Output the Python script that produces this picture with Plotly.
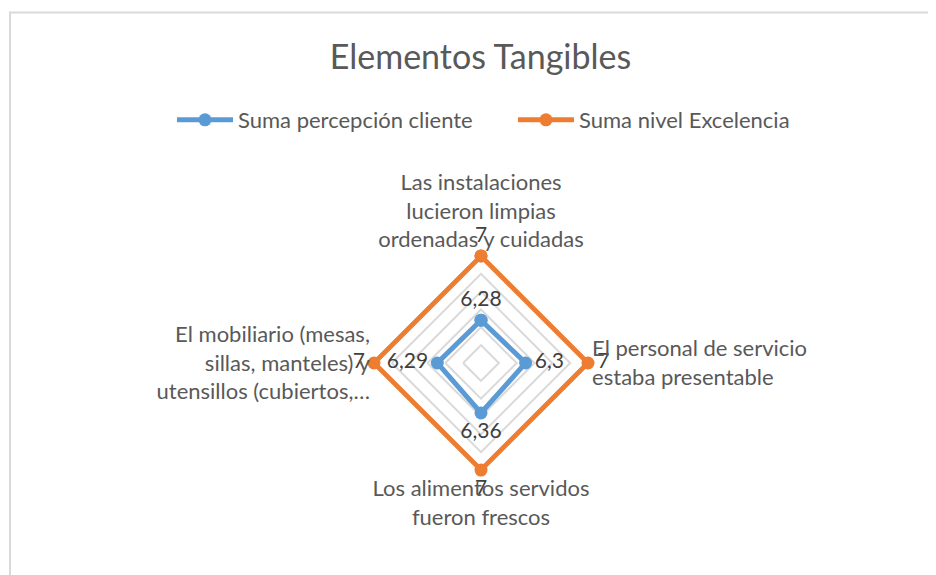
import plotly.graph_objects as go

categories = [
    "Las instalaciones<br>lucieron limpias<br>ordenadas y cuidadas",
    "El personal de servicio<br>estaba presentable",
    "Los alimentos servidos<br>fueron frescos",
    "El mobiliario (mesas,<br>sillas, manteles) y<br>utensillos (cubiertos,…",
]
percepcion = [6.28, 6.3, 6.36, 6.29]
excelencia = [7, 7, 7, 7]
series_names = ["Suma percepción cliente", "Suma nivel Excelencia"]

BLUE = "#5B9BD5"
ORANGE = "#ED7D31"
FONT = "Lato"

# the page body has an 8px margin, so positions are given in page pixels
W, H, OFF = 936, 575, 8


def px_x(p):
    return (p - OFF) / W


def px_y(p):
    return 1 - (p - OFF) / H


def fmt(v):
    return f"{v:g}".replace(".", ",")


def closed(values):
    return values + values[:1]


label_pos = ["top center", "middle right", "bottom center", "middle left", "top center"]

fig = go.Figure()

fig.add_trace(go.Scatterpolar(
    r=closed(percepcion),
    theta=closed(categories),
    name=series_names[0],
    mode="lines+markers+text",
    text=[fmt(v) for v in percepcion] + [""],
    textposition=label_pos,
    textfont=dict(family=FONT, size=21, color="#404040"),
    line=dict(color=BLUE, width=5),
    marker=dict(color=BLUE, size=13),
    cliponaxis=False,
))

fig.add_trace(go.Scatterpolar(
    r=closed(excelencia),
    theta=closed(categories),
    name=series_names[1],
    mode="lines+markers+text",
    text=[fmt(v) for v in excelencia] + [""],
    textposition=label_pos,
    textfont=dict(family=FONT, size=21, color="#404040"),
    line=dict(color=ORANGE, width=5),
    marker=dict(color=ORANGE, size=13),
    cliponaxis=False,
))

cx, cy, R = 481, 363, 110.6
fig.update_layout(
    width=W, height=H,
    margin=dict(l=0, r=0, t=0, b=0),
    paper_bgcolor="white",
    font=dict(family=FONT, color="#595959", size=22),
    title=dict(text="Elementos Tangibles", x=px_x(480.5), xanchor="center",
               y=px_y(57), yanchor="middle",
               font=dict(family=FONT, size=34, color="#595959")),
    legend=dict(orientation="h", x=px_x(172), xanchor="left", y=px_y(120), yanchor="middle",
                font=dict(family=FONT, size=22, color="#595959"),
                itemwidth=56, tracegroupgap=0,
                entrywidth=270, entrywidthmode="pixels"),
    polar=dict(
        domain=dict(x=[px_x(cx - R), px_x(cx + R)], y=[px_y(cy + R), px_y(cy - R)]),
        gridshape="linear",
        bgcolor="white",
        radialaxis=dict(range=[5.8, 7.04], tickvals=[6.0, 6.2, 6.4, 6.6, 6.8, 7.0],
                        showticklabels=False, ticks="",
                        showline=False, gridcolor="#d9d9d9", gridwidth=1.5),
        angularaxis=dict(direction="clockwise", rotation=90, showgrid=False,
                         showline=False, ticks="",
                         tickfont=dict(family=FONT, size=22, color="#595959")),
    ),
    shapes=[dict(type="rect", xref="paper", yref="paper",
                 x0=px_x(10), y0=-0.1, x1=1.1, y1=px_y(12.5),
                 line=dict(color="#d9d9d9", width=2), fillcolor="rgba(0,0,0,0)", layer="below")],
)

fig.write_html("out.html")
